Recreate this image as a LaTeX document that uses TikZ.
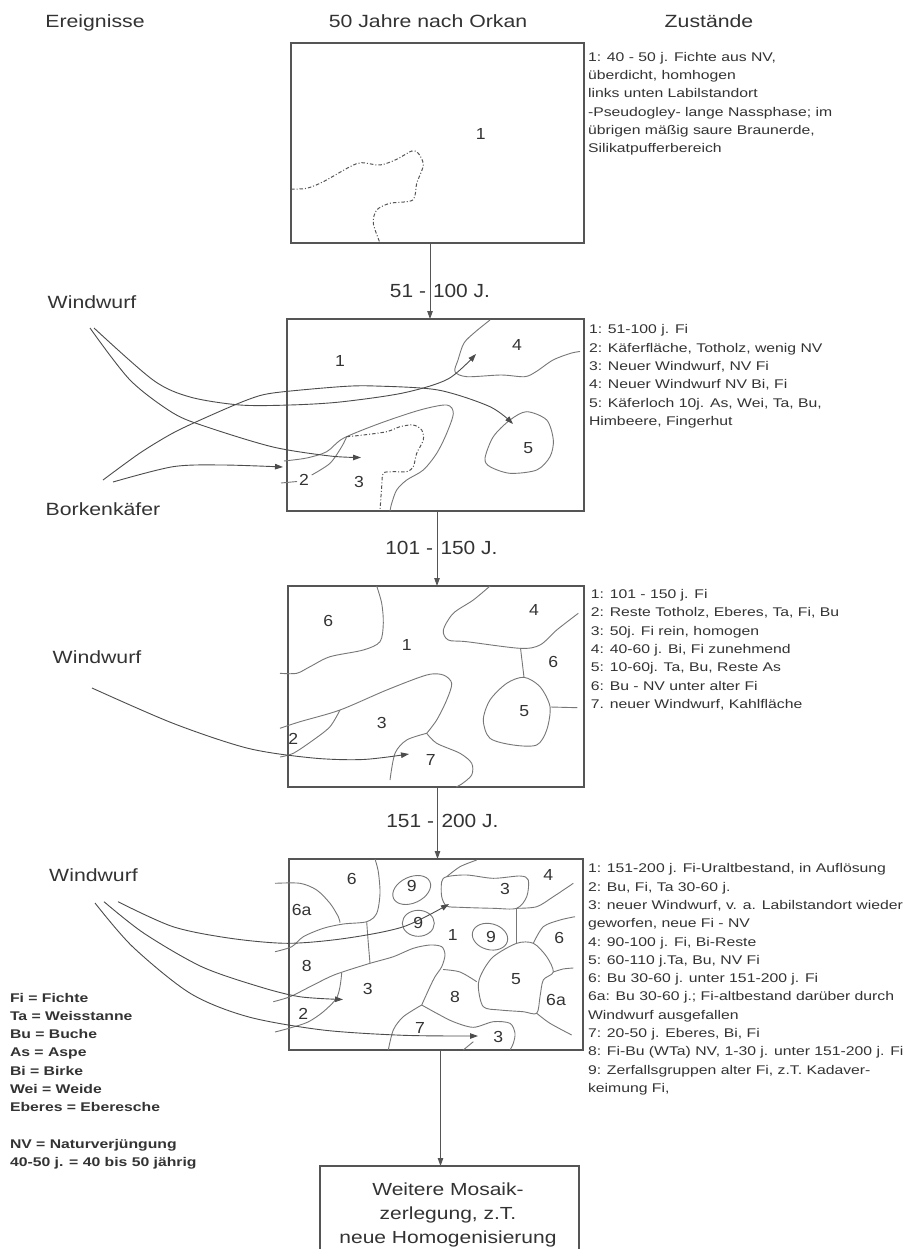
\documentclass[tikz,border=0pt]{standalone}
\usepackage{fontspec}
\setmainfont{Liberation Sans}
\usepackage{graphicx}
\usetikzlibrary{arrows.meta}

\definecolor{ink}{HTML}{333333}
\definecolor{framecol}{HTML}{555555}
\definecolor{mapline}{HTML}{777777}
\definecolor{arrowcol}{HTML}{4c4c4c}

% horizontally widened text, as in the printed chart
\newcommand\wide[2]{\scalebox{#1}[1]{#2}}
\newcommand\lines[1]{\begin{tabular}[t]{@{}l@{}}#1\end{tabular}}

\tikzset{
  txt/.style={inner sep=0pt, outer sep=0pt, text=ink},
  head/.style={txt, anchor=base, font=\fontsize{17.7}{21}\selectfont},
  event/.style={txt, anchor=base, font=\fontsize{17.7}{21}\selectfont},
  years/.style={txt, font=\fontsize{19}{22}\selectfont},
  note/.style={txt, anchor=base west, font=\fontsize{12.6}{18.3}\selectfont},
  digit/.style={txt, font=\fontsize{16}{18}\selectfont},
  stagebox/.style={draw=framecol, line width=1.2pt, inner sep=0pt, outer sep=0pt, anchor=north west},
  flow/.style={draw=framecol, line width=0.9pt, -{Triangle[length=8pt,width=5.5pt]}},
  border/.style={draw=mapline, line width=0.9pt},
  wetland/.style={draw=framecol, line width=1pt, dash pattern=on 3.5pt off 2pt on 1pt off 2pt},
  impact/.style={draw=arrowcol, line width=0.9pt, -{Triangle[length=8pt,width=5.5pt]}},
}

\begin{document}
\begin{tikzpicture}[x=1pt,y=-1pt]
\useasboundingbox (0,0) rectangle (904,1249);
\clip (0,0) rectangle (904,1249);
\fill[white] (0,0) rectangle (904,1249);

% ---------- column headings ----------
\node[head] (h1) at (95,28) {\wide{1.2}{Ereignisse}};
\node[head] (h2) at (428,28) {\wide{1.2}{50 Jahre nach Orkan}};
\node[head] (h3) at (709,28) {\wide{1.2}{Zustände}};

% ---------- stage boxes ----------
\node[stagebox, minimum width=293pt, minimum height=200pt] (b1) at (291,43) {};
\node[stagebox, minimum width=297pt, minimum height=192pt] (b2) at (287,319) {};
\node[stagebox, minimum width=296pt, minimum height=201pt] (b3) at (288,586) {};
\node[stagebox, minimum width=294pt, minimum height=191pt] (b4) at (289,859) {};
\node[stagebox, minimum width=259pt, minimum height=130pt] (b5) at (320,1166) {};

% ---------- time steps ----------
\draw[flow] ([xshift=-7.5pt]b1.south) -- ([xshift=-7.5pt]b1.south |- b2.north);
\draw[flow] ([xshift=1.5pt]b2.south) -- ([xshift=1.5pt]b2.south |- b3.north);
\draw[flow] ([xshift=1.5pt]b3.south) -- ([xshift=1.5pt]b3.south |- b4.north);
\draw[flow] ([xshift=4.5pt]b4.south) -- ([xshift=4.5pt]b4.south |- b5.north);

\node[years, anchor=base east] (y1a) at (426,297) {\wide{1.1}{51 -}};
\node[years, anchor=base west] (y1b) at (433,297) {\wide{1.1}{100 J.}};
\node[years, anchor=base east] (y2a) at (433,554) {\wide{1.1}{101 -}};
\node[years, anchor=base west] (y2b) at (440.5,554) {\wide{1.1}{150 J.}};
\node[years, anchor=base east] (y3a) at (434,827) {\wide{1.1}{151 -}};
\node[years, anchor=base west] (y3b) at (441.5,827) {\wide{1.1}{200 J.}};

% ---------- stage 1: 50 years ----------
\draw[wetland] plot[smooth] coordinates {(291,189) (306.7,188.3) (323.3,181.7) (350,166.7) (361.7,162.7) (380,165) (396.7,159.3) (411.7,151) (418.3,153.3) (423.3,165) (416.7,183.3) (412.7,200) (390,203.3) (376.7,210) (373.3,223.3) (380,243)};
\node[digit] (s1n1) at (480.7,134) {\wide{1.1}{1}};

\node[note] (d1) at (588,61.2) {\wide{1.25}{\lines{1: 40 - 50 j. Fichte aus NV,\\ überdicht, homhogen\\ links unten Labilstandort\\ -Pseudogley- lange Nassphase; im\\ übrigen mäßig saure Braunerde,\\ Silikatpufferbereich}}};

% ---------- stage 2: 51-100 years ----------
\draw[border] plot[smooth] coordinates {(490,320) (475.5,331.7) (464,343) (458,360) (455,371.7) (467,376.7) (501,375) (524.5,376.7) (536,371.7) (553,360) (570.6,353.3) (580,351.5)};
\draw[border] plot[smooth cycle] coordinates {(485,458.3) (493.3,436.7) (510,420) (526.7,411.7) (546.7,420) (553.3,440) (550,456.7) (536.7,470) (510,473.3) (490,466.7)};
\draw[border] plot[smooth] coordinates {(284,461) (306.7,458) (326.7,451.7) (343.3,438.3) (380,423.3) (420,410) (446.7,405) (453.3,413.3) (446.7,433.3) (436.7,453.3) (423.3,470) (406.7,480) (396.7,490) (391.7,503.3) (390,511)};
\draw[border] (281,483) -- (297,481.5);
\draw[border] plot[smooth] coordinates {(311.7,475) (330,463.3) (341.7,446.7) (346.7,436.7)};
\draw[wetland] plot[smooth] coordinates {(346.7,436.7) (363.3,435) (386.7,431.7) (400,426.7) (413.3,425) (421.7,430) (423.3,440) (416.7,453.3) (413.3,466.7) (406.7,471.7) (393.3,471.7) (383.3,473.3) (381.7,486.7) (380,511)};

\node[digit] (s2n1) at (340,360.7) {\wide{1.1}{1}};
\node[digit] (s2n4) at (517,345) {\wide{1.1}{4}};
\node[digit] (s2n5) at (528.3,448.3) {\wide{1.1}{5}};
\node[digit] (s2n2) at (304,480) {\wide{1.1}{2}};
\node[digit] (s2n3) at (359,481.7) {\wide{1.1}{3}};

\node[event] (e1) at (92,308) {\wide{1.2}{Windwurf}};
\node[event] (e2) at (103,515) {\wide{1.2}{Borkenkäfer}};
\coordinate (e1a) at (90,328);
\coordinate (e1b) at (94,328);
\coordinate (e2a) at (103,480);
\coordinate (e2b) at (113,482);
\coordinate (t23) at (361,457.5);
\coordinate (t24) at (476,354);
\coordinate (t25) at (513,424);
\coordinate (t22) at (283,467);
\draw[impact] plot[smooth] coordinates {(e1a) (130,380) (173,413) (207,427) (273,447) (330,456) (t23)};
\draw[impact] plot[smooth] coordinates {(e1b) (153,380) (190,397) (240,405) (290,405) (340,402) (403,393) (448,379) (t24)};
\draw[impact] plot[smooth] coordinates {(e2a) (140,453) (173,433) (207,417) (247,400) (273,393) (340,386.7) (375,386) (438,390) (490,406.7) (t25)};
\draw[impact] plot[smooth] coordinates {(e2b) (173,466.7) (223,465) (t22)};

\node[note] (d2) at (589,333.8) {\wide{1.25}{\lines{1: 51-100 j. Fi\\ 2: Käferfläche, Totholz, wenig NV\\ 3: Neuer Windwurf, NV Fi\\ 4: Neuer Windwurf NV Bi, Fi\\ 5: Käferloch 10j. As, Wei, Ta, Bu,\\ Himbeere, Fingerhut}}};

% ---------- stage 3: 101-150 years ----------
\draw[border] plot[smooth] coordinates {(376.7,586) (381.7,603.3) (383.3,623.3) (380,641.7) (363.3,650) (330,656.7) (310,666.7) (296.7,673.3) (280,673.3)};
\draw[border] plot[smooth] coordinates {(490,586) (473.3,600) (453.3,613.3) (443.3,630) (448.3,640) (466.7,641.7) (520,648.3) (540,645) (556.7,630) (578.3,613.3)};
\draw[border] (520.5,648) -- (524,677.3);
\draw[border] plot[smooth cycle] coordinates {(524,677.3) (540,686.7) (550,706.7) (546.7,730) (536.7,745) (513.3,745) (490,738.3) (483.3,720) (490,700) (506.7,683.3)};
\draw[border] (550.5,707) -- (577.3,707.7);
\draw[border] plot[smooth] coordinates {(280,728.3) (300,721.7) (340,710) (386.7,690) (426.7,675) (443.3,675) (451.7,683.3) (446.7,700) (436.7,720) (426.7,733.3)};
\draw[border] plot[smooth] coordinates {(426.7,733.3) (406.7,740) (395,753.3) (390,780)};
\draw[border] plot[smooth] coordinates {(426.7,733.3) (436.7,743.3) (460,753.3) (471.7,763.3) (471.7,775) (461.7,784) (456,787)};
\draw[border] plot[smooth] coordinates {(340,710) (330,726.7) (313.3,740) (293.3,753.3) (280,757)};

\node[digit] (s3n6) at (328.3,620.7) {\wide{1.1}{6}};
\node[digit] (s3n1) at (406.7,645) {\wide{1.1}{1}};
\node[digit] (s3n4) at (534,610) {\wide{1.1}{4}};
\node[digit] (s3n6b) at (553.3,661.7) {\wide{1.1}{6}};
\node[digit] (s3n5) at (524.3,711) {\wide{1.1}{5}};
\node[digit] (s3n3) at (381.7,723.3) {\wide{1.1}{3}};
\node[digit] (s3n2) at (293.3,739.3) {\wide{1.1}{2}};
\node[digit] (s3n7) at (430.7,760) {\wide{1.1}{7}};

\node[event] (e3) at (97,663) {\wide{1.2}{Windwurf}};
\coordinate (e3a) at (92,688);
\coordinate (t37) at (409,754);
\draw[impact] plot[smooth] coordinates {(e3a) (173,723.3) (248,748.3) (313,758) (363,759.5) (t37)};

\node[note] (d3) at (590.8,598.5) {\wide{1.25}{\lines{1: 101 - 150 j. Fi\\ 2: Reste Totholz, Eberes, Ta, Fi, Bu\\ 3: 50j. Fi rein, homogen\\ 4: 40-60 j. Bi, Fi zunehmend\\ 5: 10-60j. Ta, Bu, Reste As\\ 6: Bu - NV unter alter Fi\\ 7. neuer Windwurf, Kahlfläche}}};

% ---------- stage 4: 151-200 years ----------
\draw[border] plot[smooth] coordinates {(275,883.3) (300,883.3) (316.7,890) (330,903.3) (338.3,916.7) (340,922.7)};
\draw[border] plot[smooth] coordinates {(375,859) (378.3,871.7) (380,893.3) (376.7,913.3) (366.7,921.7) (343.3,924) (323.3,928.3) (303.3,936.7) (291.7,946.7) (275,951.7)};
\draw[border] plot[smooth] coordinates {(366.7,922) (368.3,943.3) (370,963.3)};
\draw[border] plot[smooth] coordinates {(273.3,1001.7) (290,996.7) (310,986.7) (330,976.7) (343.3,971.7) (370,963.3) (393.3,956.7) (413.3,948.3) (430,945) (441.7,946.7) (445,955) (441.7,966.7) (435,976.7) (430,986.7) (421.7,1005)};
\draw[border] plot[smooth] coordinates {(421.7,1005) (403.3,1016.7) (393.3,1030) (388.3,1050)};
\draw[border] plot[smooth] coordinates {(421.7,1005) (436.7,1013.3) (453.3,1021.7) (473.3,1027.3) (493.3,1021.7) (510,1023.3) (515,1033.3) (513.3,1043.3) (510,1050)};
\draw[border] (473.3,1041.7) -- (463.3,1050);
\draw[border] plot[smooth] coordinates {(443,969.5) (460,972) (476.7,981.7)};
\draw[border] plot[smooth cycle] coordinates {(516.7,943.3) (493.3,956.7) (481.7,973.3) (478.3,986.7) (483.3,1006.7) (500,1010) (523.3,1011.7) (536.7,1013.3) (540,996.7) (543.3,980) (553.3,972) (546.7,956.7) (533.3,943.3)};
\draw[border] (516.7,908.3) -- (516.7,943.3);
\draw[border] plot[smooth] coordinates {(533.3,943.3) (543.3,926.7) (560,920) (575,916.7)};
\draw[border] plot[smooth] coordinates {(553.3,972) (563,969) (573.3,968)};
\draw[border] plot[smooth] coordinates {(536.7,1013.3) (550,1023.3) (571.7,1035)};
\draw[border] plot[smooth cycle] coordinates {(441.7,881.7) (446.7,876.7) (466.7,875) (493.3,878.3) (520,876) (528.3,880) (526.7,896.7) (516.7,908.3) (493.3,908.3) (460,907.3) (446.7,906) (441.7,896.7)};
\draw[border] plot[smooth] coordinates {(476.7,860) (460,866.7) (446.7,876.7)};
\draw[border] plot[smooth] coordinates {(516.7,908.3) (536.7,906.7) (553.3,896.7) (573.3,883.3)};
\draw[border, rotate around={25:(411.7,890)}] (411.7,890) ellipse [x radius=20pt, y radius=13pt];
\draw[border] (418.3,923.3) ellipse [x radius=16pt, y radius=13pt];
\draw[border, rotate around={-15:(490,936.7)}] (490,936.7) ellipse [x radius=18pt, y radius=13pt];
\draw[border] plot[smooth] coordinates {(341.7,973) (340,986.7) (336,999) (323,1012) (308,1022) (290,1028) (275,1032)};

\node[digit] (s4n6) at (351.7,879) {\wide{1.1}{6}};
\node[digit] (s4n9a) at (411.7,886) {\wide{1.1}{9}};
\node[digit] (s4n3a) at (505,889.3) {\wide{1.1}{3}};
\node[digit] (s4n4) at (548.3,875) {\wide{1.1}{4}};
\node[digit] (s4n6a) at (301.7,910) {\wide{1.1}{6a}};
\node[digit] (s4n9b) at (418.3,923.3) {\wide{1.1}{9}};
\node[digit] (s4n1) at (452.7,935) {\wide{1.1}{1}};
\node[digit] (s4n9c) at (491,936.7) {\wide{1.1}{9}};
\node[digit] (s4n6b) at (559.3,938.3) {\wide{1.1}{6}};
\node[digit] (s4n8a) at (306.7,965.7) {\wide{1.1}{8}};
\node[digit] (s4n5) at (516,979) {\wide{1.1}{5}};
\node[digit] (s4n3b) at (367.7,989.3) {\wide{1.1}{3}};
\node[digit] (s4n8b) at (455,997.3) {\wide{1.1}{8}};
\node[digit] (s4n6c) at (556,1000) {\wide{1.1}{6a}};
\node[digit] (s4n2) at (303.3,1013.5) {\wide{1.1}{2}};
\node[digit] (s4n7) at (420,1028.3) {\wide{1.1}{7}};
\node[digit] (s4n3c) at (498.3,1037.3) {\wide{1.1}{3}};

\node[event] (e4) at (93.5,881) {\wide{1.2}{Windwurf}};
\coordinate (e4a) at (118,901.7);
\coordinate (e4b) at (104,901.7);
\coordinate (e4c) at (95,903);
\coordinate (t43a) at (449,904);
\coordinate (t42) at (343,999.5);
\coordinate (t43b) at (478,1036);
\draw[impact] plot[smooth] coordinates {(e4a) (173,926.7) (230.5,938.3) (288,943.3) (345.8,938.3) (403.5,926.7) (t43a)};
\draw[impact] plot[smooth] coordinates {(e4b) (144,933.3) (201.7,966.7) (259.4,986.7) (299.7,996.7) (t42)};
\draw[impact] plot[smooth] coordinates {(e4c) (132.6,946.7) (190.2,993.3) (247.8,1016.7) (322.8,1030) (403.5,1035.3) (t43b)};

\node[note] (d4) at (588,872.8) {\wide{1.25}{\lines{1: 151-200 j. Fi-Uraltbestand, in Auflösung\\ 2: Bu, Fi, Ta 30-60 j.\\ 3: neuer Windwurf, v. a. Labilstandort wieder\\ geworfen, neue Fi - NV\\ 4: 90-100 j. Fi, Bi-Reste\\ 5: 60-110 j.Ta, Bu, NV Fi\\ 6: Bu 30-60 j. unter 151-200 j. Fi\\ 6a: Bu 30-60 j.; Fi-altbestand darüber durch\\ Windwurf ausgefallen\\ 7: 20-50 j. Eberes, Bi, Fi\\ 8: Fi-Bu (WTa) NV, 1-30 j. unter 151-200 j. Fi\\ 9: Zerfallsgruppen alter Fi, z.T. Kadaver-\\ keimung Fi,}}};

% ---------- outlook ----------
\node[txt, anchor=base, font=\fontsize{17.5}{24}\selectfont] (t5) at (448,1195) {\wide{1.2}{\begin{tabular}[t]{@{}c@{}}Weitere Mosaik-\\ zerlegung, z.T.\\ neue Homogenisierung\end{tabular}}};

% ---------- abbreviations ----------
\node[note, font=\fontsize{12.6}{18.3}\selectfont\bfseries] (leg) at (10,1002) {\wide{1.25}{\lines{Fi = Fichte\\ Ta = Weisstanne\\ Bu = Buche\\ As = Aspe\\ Bi = Birke\\ Wei = Weide\\ Eberes = Eberesche\\ \\ NV = Naturverjüngung\\ 40-50 j. = 40 bis 50 jährig}}};

\end{tikzpicture}
\end{document}
